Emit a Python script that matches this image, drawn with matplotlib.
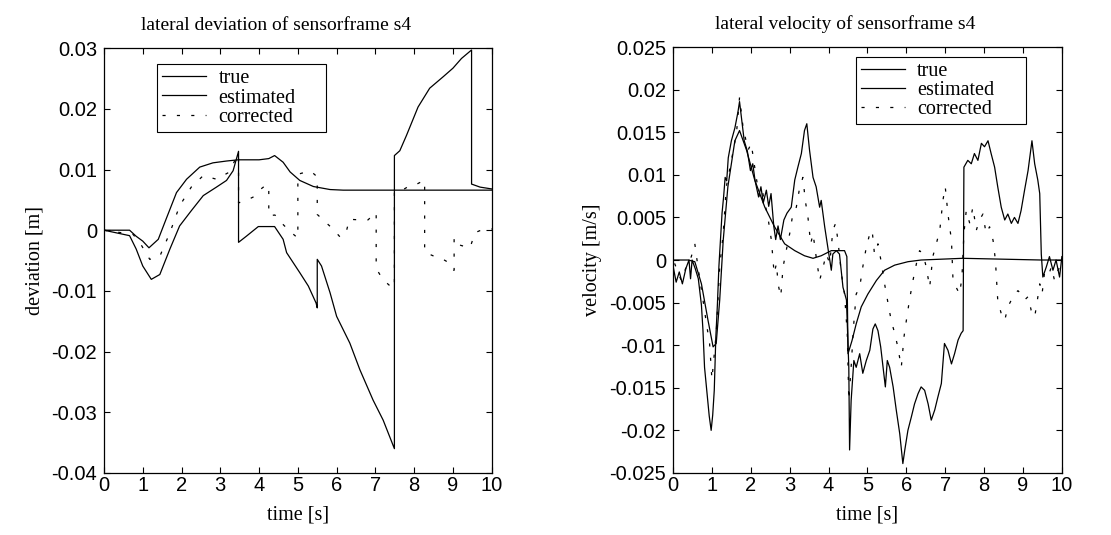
import matplotlib
matplotlib.use('Agg')
import matplotlib.pyplot as plt
from matplotlib.ticker import FuncFormatter

plt.rcParams['axes.unicode_minus'] = False

# ---- lateral deviation (left) ----
t_true_dev = [0, 0.66, 0.83, 1.0, 1.16, 1.4, 1.6, 1.87, 2.13, 2.47, 2.81, 3.16, 3.46, 4.0, 4.25, 4.4,
              4.62, 4.8, 5.05, 5.4, 5.83, 6.17, 10]
true_dev = [0, 0, -0.001, -0.0018, -0.0029, -0.0015, 0.0018, 0.0062, 0.0084, 0.0104, 0.0111, 0.0114,
            0.0116, 0.0116, 0.0118, 0.0123, 0.0112, 0.0096, 0.0082, 0.0072, 0.0067, 0.0066, 0.0066]

t_est_dev = [0, 0.66, 0.83, 1.0, 1.22, 1.44, 1.7, 1.95, 2.25, 2.56, 2.9, 3.16, 3.33, 3.47, 3.47, 3.67,
             3.98, 4.4, 4.62, 4.71, 5.05, 5.27, 5.47, 5.5, 5.5, 5.61, 5.83, 6.0, 6.34, 6.6, 6.94, 7.2,
             7.49, 7.49, 7.63, 7.8, 8.1, 8.4, 8.75, 9.0, 9.22, 9.48, 9.48, 9.7, 10]
est_dev = [0, -0.0009, -0.0031, -0.0059, -0.0081, -0.0073, -0.0031, 0.0007, 0.0032, 0.0057, 0.0071,
           0.0082, 0.0098, 0.013, -0.002, -0.001, 0.0006, 0.0006, -0.0015, -0.0037, -0.007, -0.0092,
           -0.012, -0.0128, -0.0048, -0.0059, -0.0103, -0.0142, -0.0186, -0.023, -0.028, -0.0313,
           -0.036, 0.0123, 0.0131, 0.0156, 0.0203, 0.0234, 0.0253, 0.0267, 0.0283, 0.0297, 0.0076,
           0.0071, 0.0068]

t_cor_dev = [0, 0.75, 0.92, 1.18, 1.44, 1.7, 1.95, 2.25, 2.56, 2.9, 3.24, 3.43, 3.47, 3.47, 3.73, 3.86,
             4.01, 4.17, 4.25, 4.25, 4.41, 4.61, 4.78, 5.0, 5.0, 5.1, 5.34, 5.48, 5.5, 5.5, 5.7, 5.89,
             6.1, 6.25, 6.33, 6.59, 6.81, 7.0, 7.02, 7.02, 7.19, 7.38, 7.49, 7.49, 7.64, 7.85, 8.04,
             8.25, 8.27, 8.27, 8.48, 8.72, 8.93, 9.02, 9.03, 9.03, 9.2, 9.44, 9.57, 9.8, 10]
cor_dev = [0, -0.0007, -0.002, -0.0048, -0.0043, -0.0004, 0.004, 0.0071, 0.009, 0.0084, 0.0096, 0.0123,
           0.0125, 0.0045, 0.0051, 0.0055, 0.0066, 0.0074, 0.0074, 0.0024, 0.0025, 0.001, -0.0001,
           -0.0013, 0.0092, 0.0094, 0.0097, 0.0089, 0.0089, 0.0026, 0.0014, 0.0003, -0.0012, -0.0002,
           0.0018, 0.0017, 0.0017, 0.0029, 0.0029, -0.0063, -0.0081, -0.0092, -0.0095, 0.0063, 0.0064,
           0.0072, 0.0075, 0.0082, 0.0082, -0.0036, -0.0042, -0.0047, -0.0055, -0.0066, -0.0066,
           -0.0012, -0.0025, -0.0029, -0.0004, 0.0002, 0.0002]

# ---- lateral velocity (right) ----
t_true_vel = [0, 0.39, 0.56, 0.73, 0.9, 1.03, 1.11, 1.2, 1.29, 1.41, 1.59, 1.71, 1.89, 2.1, 2.36, 2.61,
              2.87, 3.13, 3.38, 3.6, 3.81, 4.07, 4.41, 4.47, 4.5, 4.6, 4.71, 4.84, 5.01, 5.23, 5.44,
              5.7, 6.04, 6.38, 7.45, 9.47, 10]
true_vel = [0, 0, -0.0002, -0.0028, -0.0071, -0.0102, -0.0098, -0.0047, 0.0023, 0.0086, 0.014, 0.0152,
            0.0129, 0.0094, 0.0062, 0.0039, 0.0019, 0.0011, 0.0005, 0.0002, 0.0005, 0.0011, 0.0011,
            0.0004, -0.011, -0.0095, -0.0075, -0.0055, -0.004, -0.0024, -0.0012, -0.0006, -0.0002, 0,
            0.0002, 0, 0]

t_est_vel = [0, 0.08, 0.16, 0.24, 0.33, 0.41, 0.45, 0.49, 0.57, 0.65,
             0.73, 0.77, 0.81, 0.89, 0.93, 0.98, 1.02, 1.06, 1.1, 1.14,
             1.18, 1.22, 1.26, 1.3, 1.34, 1.38, 1.42, 1.5, 1.59, 1.67,
             1.71, 1.77, 1.83, 1.91, 1.99, 2.05, 2.11, 2.2, 2.26, 2.32,
             2.4, 2.46, 2.52, 2.59, 2.64, 2.7, 2.76, 2.85, 2.93, 3.04,
             3.13, 3.21, 3.3, 3.38, 3.44, 3.51, 3.6, 3.68, 3.77, 3.81,
             3.9, 3.98, 4.07, 4.11, 4.2, 4.28, 4.37, 4.46, 4.52, 4.54,
             4.58, 4.65, 4.71, 4.8, 4.88, 4.97, 5.06, 5.14, 5.2, 5.27,
             5.34, 5.4, 5.46, 5.51, 5.57, 5.66, 5.74, 5.83, 5.91, 5.96,
             6.04, 6.13, 6.21, 6.3, 6.38, 6.47, 6.56, 6.64, 6.73, 6.81,
             6.9, 6.98, 7.07, 7.16, 7.24, 7.33, 7.41, 7.46, 7.48, 7.58,
             7.67, 7.75, 7.84, 7.93, 8.01, 8.1, 8.18, 8.27, 8.35, 8.44,
             8.53, 8.61, 8.7, 8.78, 8.87, 8.95, 9.04, 9.13, 9.23, 9.3,
             9.38, 9.43, 9.47, 9.51, 9.6, 9.68, 9.77, 9.85, 9.94, 10]
est_vel = [-0.0007, -0.0026, -0.0014, -0.0028, -0.001, 0, -0.0022, 0, -0.001, -0.0022,
           -0.0053, -0.0083, -0.0126, -0.0164, -0.0183, -0.02, -0.0182, -0.0153, -0.0091, -0.0053,
           -0.0007, 0.0024, 0.0055, 0.0074, 0.0097, 0.0093, 0.012, 0.014, 0.0155, 0.0174,
           0.0186, 0.0163, 0.014, 0.0128, 0.0105, 0.0113, 0.0093, 0.0074, 0.0086, 0.0067,
           0.0082, 0.0063, 0.0078, 0.004, 0.0024, 0.004, 0.0024, 0.0047, 0.0055, 0.0062,
           0.0094, 0.0109, 0.0125, 0.0152, 0.016, 0.0129, 0.0097, 0.0086, 0.0062, 0.007,
           0.0039, 0.0015, -0.0012, 0.0007, 0.0011, 0.0007, -0.0032, -0.0047, -0.0126, -0.0223,
           -0.0165, -0.0118, -0.0126, -0.011, -0.0133, -0.0118, -0.0106, -0.0081, -0.0075, -0.0083,
           -0.0102, -0.0126, -0.0149, -0.0118, -0.0126, -0.0149, -0.0176, -0.0204, -0.0239, -0.0223,
           -0.02, -0.0184, -0.0169, -0.0157, -0.0149, -0.0153, -0.0169, -0.0188, -0.0176, -0.0161,
           -0.0145, -0.0098, -0.0106, -0.0122, -0.011, -0.0094, -0.0086, -0.0083, 0.0109, 0.0117,
           0.0113, 0.0125, 0.0117, 0.0137, 0.0133, 0.014, 0.0125, 0.0109, 0.0086, 0.0062,
           0.0047, 0.0054, 0.0043, 0.005, 0.0043, 0.0058, 0.0082, 0.0105, 0.014, 0.0113,
           0.0094, 0.0078, 0.0007, -0.002, -0.0008, 0.0004, -0.0012, 0, -0.002, 0.0004]

t_cor_vel = [0.04, 0.21, 0.34, 0.47, 0.56, 0.64, 0.77, 0.86, 0.94, 1.0,
             1.11, 1.2, 1.29, 1.37, 1.5, 1.63, 1.71, 1.8, 1.93, 2.01,
             2.1, 2.23, 2.31, 2.44, 2.53, 2.6, 2.66, 2.7, 2.77, 2.83,
             2.91, 3.0, 3.08, 3.17, 3.26, 3.34, 3.4, 3.47, 3.54, 3.6,
             3.68, 3.77, 3.86, 3.94, 4.03, 4.11, 4.18, 4.24, 4.33, 4.41,
             4.48, 4.52, 4.58, 4.64, 4.71, 4.8, 4.88, 4.97, 5.06, 5.12,
             5.18, 5.27, 5.36, 5.44, 5.53, 5.61, 5.7, 5.78, 5.87, 5.94,
             6.0, 6.08, 6.17, 6.26, 6.34, 6.43, 6.51, 6.6, 6.68, 6.77,
             6.86, 6.94, 7.0, 7.07, 7.16, 7.2, 7.28, 7.37, 7.43, 7.48,
             7.54, 7.63, 7.71, 7.8, 7.88, 7.97, 8.05, 8.14, 8.23, 8.29,
             8.35, 8.44, 8.53, 8.61, 8.7, 8.78, 8.87, 8.95, 9.04, 9.13,
             9.21, 9.3, 9.37, 9.43, 9.49, 9.55, 9.64, 9.73, 9.81, 9.9, 10]
cor_vel = [-0.0004, -0.0024, -0.0008, 0.0004, 0.0019, -0.0008, -0.0047, -0.0075, -0.0098, -0.014,
           -0.0086, -0.0008, 0.0031, 0.0086, 0.0117, 0.0148, 0.0191, 0.0156, 0.0129, 0.0137,
           0.0109, 0.007, 0.0078, 0.005, 0.0023, -0.0016, -0.0004, -0.0028, -0.0043, -0.0008,
           0.0011, 0.0031, 0.0054, 0.0062, 0.0086, 0.0097, 0.007, 0.005, 0.0019, 0.0031,
           0.0004, -0.0024, -0.0008, 0.0007, -0.0004, 0.0035, 0.0043, 0.0023, -0.0016, -0.004,
           -0.0086, -0.0165, -0.0126, -0.0079, -0.004, -0.0032, -0.0008, 0.0015, 0.0031, 0.0035,
           0.0007, 0.0019, -0.0004, -0.0028, -0.0051, -0.0071, -0.0086, -0.0102, -0.0126, -0.009,
           -0.0071, -0.0047, -0.0024, -0.0004, 0.0011, 0.0007, -0.0008, -0.0032, 0.0004, 0.0019,
           0.0035, 0.007, 0.0086, 0.0054, 0.0023, -0.0024, -0.0032, -0.004, -0.002, 0.0031,
           0.0058, 0.0043, 0.0062, 0.0035, 0.0047, 0.0054, 0.0031, 0.0039, 0.0023, 0,
           -0.0047, -0.0063, -0.0071, -0.0055, -0.0047, -0.004, -0.0036, -0.004, -0.0047, -0.0043,
           -0.0059, -0.0067, -0.0047, -0.0028, -0.004, -0.0016, -0.002, -0.0008, -0.0024, -0.0012,
           -0.0004]

labels = ['true', 'estimated', 'corrected']
serif = 'Liberation Serif'
sans = 'Liberation Sans'
fmt = FuncFormatter(lambda v, p: '%g' % round(v, 4))


def style_axes(ax, title, ylabel, ylim, yticks):
    ax.set_xlim(0, 10)
    ax.set_ylim(*ylim)
    ax.set_xticks(range(11))
    ax.set_yticks(yticks)
    ax.yaxis.set_major_formatter(fmt)
    ax.tick_params(direction='in', top=True, right=True, length=4, width=0.8, labelsize=14.5)
    ax.tick_params(axis='x', pad=2)
    ax.tick_params(axis='y', pad=5)
    for lab in ax.get_xticklabels() + ax.get_yticklabels():
        lab.set_fontfamily(sans)
    for s in ax.spines.values():
        s.set_linewidth(0.9)
    ax.set_title(title, family=serif, fontsize=14, pad=13, x=0.443)
    ax.set_xlabel('time [s]', family=serif, fontsize=14.5, labelpad=8)
    ax.set_ylabel(ylabel, family=serif, fontsize=14.5, labelpad=5)


def add_legend(ax, x0, width, top):
    # wide box with empty room on the right, like the original legend
    leg = ax.legend(labels, loc='upper left', bbox_to_anchor=(x0, top - 0.3, width, 0.3),
                    mode='expand', borderaxespad=0, prop={'family': serif, 'size': 14.5},
                    handlelength=2.2, labelspacing=0.0, handletextpad=0.6, borderpad=0.25,
                    fancybox=False, framealpha=1)
    leg.get_frame().set_edgecolor('black')
    leg.get_frame().set_linewidth(0.8)


fig = plt.figure(figsize=(11.11, 5.35), dpi=100)
ax1 = fig.add_axes([0.0936, 0.116, 0.349, 0.794])
ax2 = fig.add_axes([0.6058, 0.116, 0.350, 0.796])

ax1.plot(t_true_dev, true_dev, color='black', lw=0.9)
ax1.plot(t_est_dev, est_dev, color='black', lw=0.9)
ax1.plot(t_cor_dev, cor_dev, color='black', lw=0.9, dashes=(2.5, 9))
style_axes(ax1, 'lateral deviation of sensorframe s4', 'deviation [m]', (-0.04, 0.03),
           [-0.04, -0.03, -0.02, -0.01, 0, 0.01, 0.02, 0.03])
add_legend(ax1, 0.137, 0.436, 0.962)

ax2.plot(t_true_vel, true_vel, color='black', lw=0.9)
ax2.plot(t_est_vel, est_vel, color='black', lw=0.9)
ax2.plot(t_cor_vel, cor_vel, color='black', lw=0.9, dashes=(2.5, 9))
style_axes(ax2, 'lateral velocity of sensorframe s4', 'velocity [m/s]', (-0.025, 0.025),
           [-0.025, -0.02, -0.015, -0.01, -0.005, 0, 0.005, 0.01, 0.015, 0.02, 0.025])
add_legend(ax2, 0.47, 0.437, 0.977)

fig.savefig('out.png', dpi=100)
